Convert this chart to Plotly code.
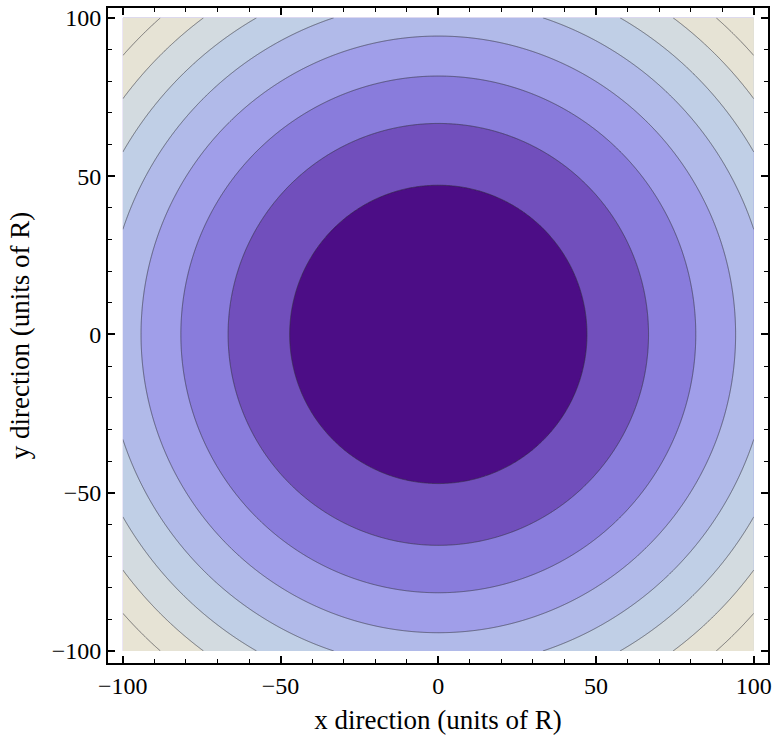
import numpy as np
import plotly.graph_objects as go

# Grid covering the square domain (units of R)
x_vals = np.linspace(-100, 100, 501)
y_vals = np.linspace(-100, 100, 501)
X, Y = np.meshgrid(x_vals, y_vals)
Z = X**2 + Y**2

# Contour levels in r^2
level_start = 2220
level_size = 2220
level_end = 8 * 2220

# Band colours from the innermost region outward
band_colors = [
    "#4C0D86", "#6E4AB8", "#8374D8", "#9A94E8", "#AAAFEA",
    "#B7C5E8", "#C5D5E4", "#D7DDDE", "#E8E4D4",
]

tick_vals = [-100, -50, 0, 50, 100]
tick_text = ["\u2212100", "\u221250", "0", "50", "100"]

n = len(band_colors)
colorscale = [[k / n, c] for k, c in enumerate(band_colors)] + [[1.0, band_colors[-1]]]

fig = go.Figure(
    go.Contour(
        x=x_vals, y=y_vals, z=Z,
        autocontour=False,
        contours=dict(start=level_start, end=level_end, size=level_size, coloring="fill"),
        colorscale=colorscale,
        showscale=False,
        line=dict(color="rgba(50,50,60,0.6)", width=1.0, smoothing=0),
        hoverinfo="skip",
    )
)

serif = "Liberation Serif, Times New Roman, serif"
tick_font = dict(family=serif, size=24, color="black")
title_font = dict(family=serif, size=27, color="black")

axis_common = dict(
    showline=True, linecolor="black", linewidth=2, mirror="allticks",
    ticks="inside", ticklen=7, tickwidth=1.5, tickcolor="black",
    tickvals=tick_vals, ticktext=tick_text,
    minor=dict(ticks="inside", ticklen=4, tickwidth=1, tickcolor="black", dtick=10, tick0=0),
    showgrid=False, zeroline=False, tickfont=tick_font,
)

fig.update_layout(
    width=777, height=736,
    margin=dict(l=108, r=6, t=5, b=73),
    paper_bgcolor="white", plot_bgcolor="white",
    font=tick_font,
    xaxis=dict(range=[-104.7, 104.5], title=dict(text="x direction (units of R)", font=title_font, standoff=12), **axis_common),
    yaxis=dict(range=[-103.8, 103.1], title=dict(text="y direction (units of R)", font=title_font, standoff=14), **axis_common),
)

fig.write_html("out.html")
